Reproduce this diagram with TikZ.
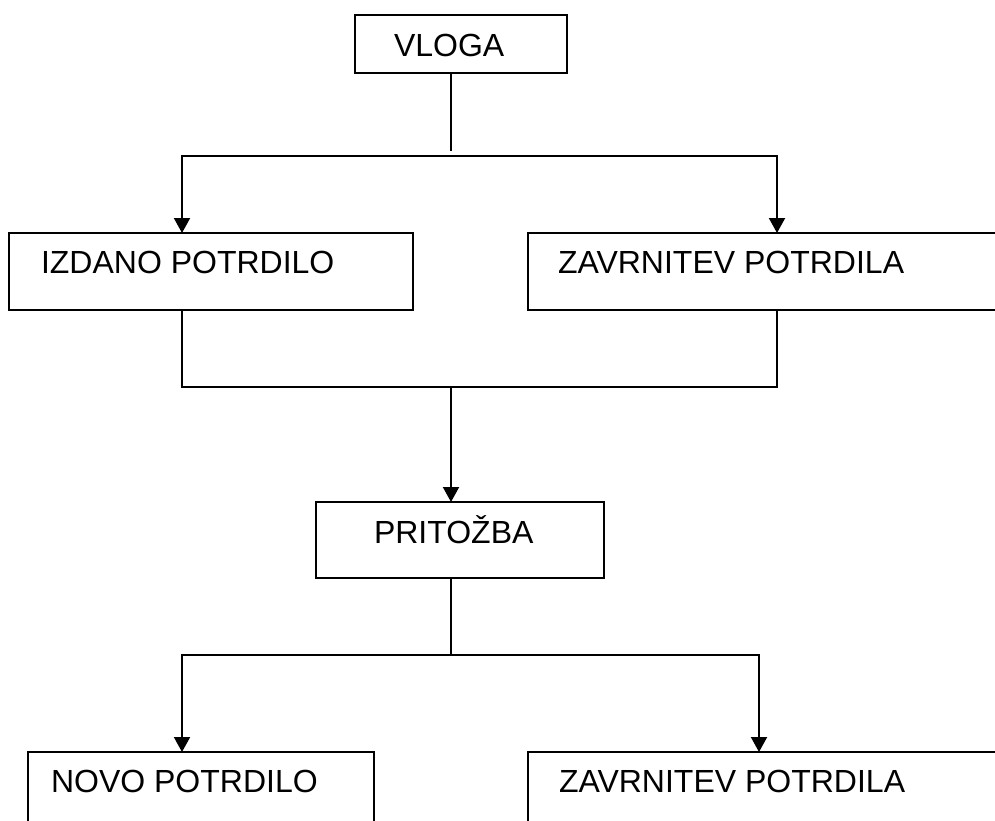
\documentclass[tikz,border=0pt]{standalone}
\usepackage{fontspec}
\setmainfont{Liberation Sans}
\usetikzlibrary{arrows.meta}
\begin{document}
\begin{tikzpicture}[x=1pt,y=-1pt,
  line width=2pt,
  box/.style={draw=black,line width=2pt,rectangle,inner sep=0pt,outer sep=0pt},
  lbl/.style={anchor=base west,inner sep=0pt,font=\fontsize{32}{38}\selectfont},
  arr/.style={-{Triangle[width=16pt,length=15pt]}},
  biarr/.style={{Triangle[width=16pt,length=15pt]}-{Triangle[width=16pt,length=15pt]}}]
  \clip (0,0) rectangle (995,821);
  \fill[white] (0,0) rectangle (995,821);

  % boxes: corner coordinates
  \node[box,minimum width=212pt,minimum height=58pt,anchor=north west] (vloga) at (355,15) {};
  \node[box,minimum width=404pt,minimum height=77pt,anchor=north west] (izdano) at (9,233) {};
  \node[box,minimum width=482pt,minimum height=77pt,anchor=north west] (zav1) at (528,233) {};
  \node[box,minimum width=288pt,minimum height=76pt,anchor=north west] (pritozba) at (316,502) {};
  \node[box,minimum width=346pt,minimum height=90pt,anchor=north west] (novo) at (28,752) {};
  \node[box,minimum width=482pt,minimum height=90pt,anchor=north west] (zav2) at (528,752) {};

  % labels
  \node[lbl] (tvloga) at (393,57) {VLOGA};
  \node[lbl] (tizdano) at (40,273) {IZDANO POTRDILO};
  \node[lbl] (tzav1) at (557,273) {ZAVRNITEV POTRDILA};
  \node[lbl] (tpritozba) at (373,543) {PRITOŽBA};
  \node[lbl] (tnovo) at (50,792) {NOVO POTRDILO};
  \node[lbl] (tzav2) at (558,792) {ZAVRNITEV POTRDILA};

  % junction points
  \coordinate (stub) at (451,151);
  \coordinate (s1l) at (182,156);
  \coordinate (s1r) at (777,156);
  \coordinate (m1l) at (182,387);
  \coordinate (m1c) at (451,387);
  \coordinate (m1r) at (777,387);
  \coordinate (s2c) at (451,655);
  \coordinate (s2l) at (182,655);
  \coordinate (s2r) at (759,655);

  % connectors
  \draw (vloga.south -| stub) -- (stub);
  \draw[biarr] (izdano.north -| s1l) -- (s1l) -- (s1r) -- (zav1.north -| s1r);
  \draw (izdano.south -| m1l) -- (m1l) -- (m1r) -- (zav1.south -| m1r);
  \draw[arr] (m1c) -- (pritozba.north -| m1c);
  \draw (pritozba.south -| s2c) -- (s2c);
  \draw[biarr] (novo.north -| s2l) -- (s2l) -- (s2r) -- (zav2.north -| s2r);
\end{tikzpicture}
\end{document}
